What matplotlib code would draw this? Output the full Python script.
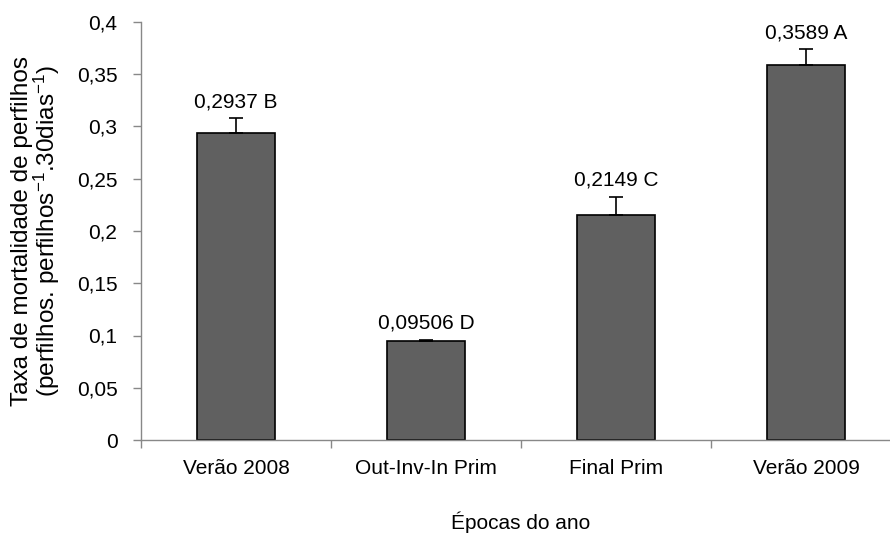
import matplotlib

matplotlib.use("Agg")
import matplotlib.pyplot as plt
import numpy as np

plt.rcParams["font.family"] = ["Liberation Sans", "DejaVu Sans"]
plt.rcParams["mathtext.fontset"] = "custom"
plt.rcParams["mathtext.rm"] = "Liberation Sans"
plt.rcParams["mathtext.it"] = "Liberation Sans"
plt.rcParams["mathtext.default"] = "rm"

# --- data -----------------------------------------------------------------
categories = ["Verão 2008", "Out-Inv-In Prim", "Final Prim", "Verão 2009"]
values = [0.2937, 0.09506, 0.2149, 0.3589]
errors = [0.014, 0.001, 0.018, 0.015]
labels = ["0,2937 B", "0,09506 D", "0,2149 C", "0,3589 A"]
yticks = [0, 0.05, 0.1, 0.15, 0.2, 0.25, 0.3, 0.35, 0.4]
ytick_labels = ["0", "0,05", "0,1", "0,15", "0,2", "0,25", "0,3", "0,35", "0,4"]

FS = 15

fig = plt.figure(figsize=(8.9, 5.33), dpi=100)
ax = fig.add_axes([141 / 890, 1 - 440 / 533, 760 / 890, 418 / 533])

x = np.arange(len(categories))
ax.bar(x, values, width=0.41, color="#606060", edgecolor="black", linewidth=1.2,
       zorder=2)
ax.errorbar(x, values, yerr=[np.zeros(len(errors)), errors], fmt="none",
            ecolor="black", elinewidth=1.2, capsize=5, capthick=1.2, zorder=3)

for xi, v, e, lab in zip(x, values, errors, labels):
    ax.annotate(lab, (xi, v + e), xytext=(0, 8), textcoords="offset points",
                ha="center", va="baseline", fontsize=FS)

ax.set_xlim(-0.5, len(categories) - 0.5)
ax.set_ylim(0, 0.4)
ax.set_yticks(yticks)
ax.set_yticklabels(ytick_labels, fontsize=FS)
ax.set_xticks(x)
ax.set_xticklabels(categories, fontsize=FS)
ax.set_xticks(np.arange(len(categories) + 1) - 0.5, minor=True)

ax.tick_params(axis="x", which="major", length=0, pad=14)
ax.tick_params(axis="x", which="minor", length=6, color="#888888", width=1)
ax.tick_params(axis="y", length=6, color="#888888", width=1, pad=11)

for side in ("top", "right"):
    ax.spines[side].set_visible(False)
for side in ("left", "bottom"):
    ax.spines[side].set_color("#888888")
    ax.spines[side].set_linewidth(1)

ax.set_xlabel("Épocas do ano", fontsize=FS)
ax.xaxis.set_label_coords(0.5, -0.172)
ax.set_ylabel("Taxa de mortalidade de perfilhos\n"
              "(perfilhos. perfilhos$^{-1}$.30dias$^{-1}$)",
              fontsize=17.5, linespacing=0.95)
ax.yaxis.set_label_coords(-0.104, 0.5)

fig.savefig("out.png", dpi=100)
